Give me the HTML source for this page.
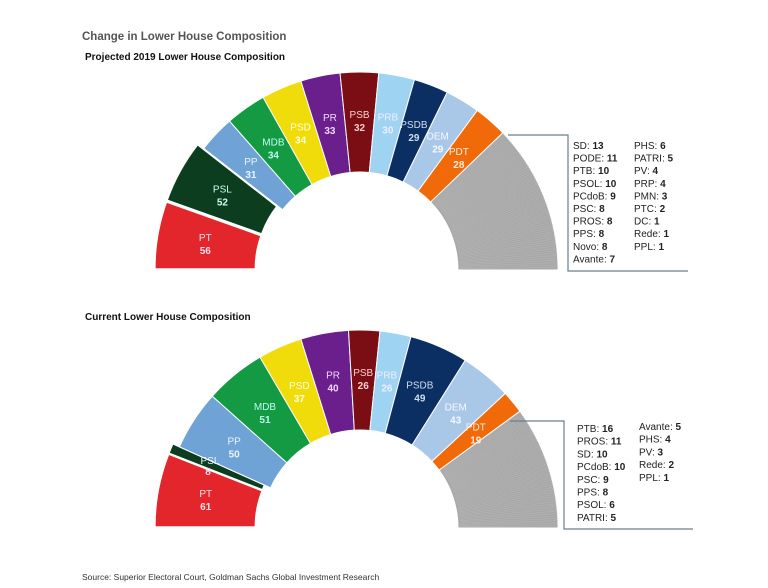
<!DOCTYPE html>
<html><head><meta charset="utf-8"><style>
body{margin:0;background:#fff;width:768px;height:588px;overflow:hidden;font-family:"Liberation Sans",Arial,sans-serif}
svg{position:absolute;left:0;top:0}
</style></head><body>
<svg id="s" width="768" height="588" xmlns="http://www.w3.org/2000/svg" font-family="Liberation Sans, Arial, sans-serif">
<rect width="768" height="588" fill="#fff"/>
<text x="82" y="40" font-size="11.5" font-weight="bold" fill="#555">Change in Lower House Composition</text>
<text x="85" y="60" font-size="10" font-weight="bold" fill="#111">Projected 2019 Lower House Composition</text>
<text x="85" y="320" font-size="10" font-weight="bold" fill="#111">Current Lower House Composition</text>
<text x="82" y="580" font-size="8.5" fill="#333">Source: Superior Electoral Court, Goldman Sachs Global Investment Research</text>
<g id="c1"></g><g id="c2"></g>
<g fill="none" stroke="#6b7f8c" stroke-width="1.2">
<polyline points="508,135 568,135 568,271 688,271"/>
<polyline points="510,421 564,421 564,529 693,529"/>
</g>
<g font-size="10" fill="#222">
<text x="573" y="149">SD: <tspan font-weight="bold">13</tspan></text>
<text x="573" y="161.6">PODE: <tspan font-weight="bold">11</tspan></text>
<text x="573" y="174.2">PTB: <tspan font-weight="bold">10</tspan></text>
<text x="573" y="186.8">PSOL: <tspan font-weight="bold">10</tspan></text>
<text x="573" y="199.4">PCdoB: <tspan font-weight="bold">9</tspan></text>
<text x="573" y="212">PSC: <tspan font-weight="bold">8</tspan></text>
<text x="573" y="224.6">PROS: <tspan font-weight="bold">8</tspan></text>
<text x="573" y="237.2">PPS: <tspan font-weight="bold">8</tspan></text>
<text x="573" y="249.8">Novo: <tspan font-weight="bold">8</tspan></text>
<text x="573" y="262.4">Avante: <tspan font-weight="bold">7</tspan></text>
<text x="634" y="149">PHS: <tspan font-weight="bold">6</tspan></text>
<text x="634" y="161.6">PATRI: <tspan font-weight="bold">5</tspan></text>
<text x="634" y="174.2">PV: <tspan font-weight="bold">4</tspan></text>
<text x="634" y="186.8">PRP: <tspan font-weight="bold">4</tspan></text>
<text x="634" y="199.4">PMN: <tspan font-weight="bold">3</tspan></text>
<text x="634" y="212">PTC: <tspan font-weight="bold">2</tspan></text>
<text x="634" y="224.6">DC: <tspan font-weight="bold">1</tspan></text>
<text x="634" y="237.2">Rede: <tspan font-weight="bold">1</tspan></text>
<text x="634" y="249.8">PPL: <tspan font-weight="bold">1</tspan></text>

<text x="577" y="432">PTB: <tspan font-weight="bold">16</tspan></text>
<text x="577" y="444.7">PROS: <tspan font-weight="bold">11</tspan></text>
<text x="577" y="457.4">SD: <tspan font-weight="bold">10</tspan></text>
<text x="577" y="470.1">PCdoB: <tspan font-weight="bold">10</tspan></text>
<text x="577" y="482.8">PSC: <tspan font-weight="bold">9</tspan></text>
<text x="577" y="495.5">PPS: <tspan font-weight="bold">8</tspan></text>
<text x="577" y="508.2">PSOL: <tspan font-weight="bold">6</tspan></text>
<text x="577" y="520.9">PATRI: <tspan font-weight="bold">5</tspan></text>
<text x="639" y="430">Avante: <tspan font-weight="bold">5</tspan></text>
<text x="639" y="442.7">PHS: <tspan font-weight="bold">4</tspan></text>
<text x="639" y="455.4">PV: <tspan font-weight="bold">3</tspan></text>
<text x="639" y="468.1">Rede: <tspan font-weight="bold">2</tspan></text>
<text x="639" y="480.8">PPL: <tspan font-weight="bold">1</tspan></text>
</g>
</svg>
<script>
var C={PT:['#e3262b','#fde'],PSL:['#0b3d1e','#cfe'],PP:['#6fa3d6','#e8f4ff'],MDB:['#139a43','#bfe'],PSD:['#f0dc0a','#ffd'],PR:['#6a1f8c','#f0d8ff'],PSB:['#7a0e14','#fcc'],PRB:['#9fd3f2','#eef'],PSDB:['#0b2e63','#cde'],DEM:['#a9c8e8','#f4f8ff'],PDT:['#f06a0a','#fed'],O:['#a8a8a8','']};
function draw(id,cy,data,expl){
 var g=document.getElementById(id),cx=360,r0=98,r1=198,tot=513,acc=0,h='',L='';
 data.forEach(function(d){
  var a0=Math.PI*(1-acc/tot);acc+=d[1];var a1=Math.PI*(1-acc/tot);
  var am=(a0+a1)/2,e=expl.indexOf(d[0])>=0?7:0,ox=e*Math.cos(am),oy=-e*Math.sin(am);
  function p(r,a){return (cx+ox+r*Math.cos(a)).toFixed(2)+','+(cy+oy-r*Math.sin(a)).toFixed(2)}
  var c=C[d[0]]||C.O;
  h+='<path d="M'+p(r0,a0)+' L'+p(r1,a0)+' A'+r1+','+r1+' 0 0 1 '+p(r1,a1)+' L'+p(r0,a1)+' A'+r0+','+r0+' 0 0 0 '+p(r0,a0)+'Z" fill="'+c[0]+'" stroke="#fff" stroke-width="1"/>';
  if(d[0]=='O'){for(var k=1;k<d[1];k+=2){var a=a0+(a1-a0)*k/d[1];h+='<line x1="'+(cx+(r0+2)*Math.cos(a))+'" y1="'+(cy-(r0+2)*Math.sin(a))+'" x2="'+(cx+r1*Math.cos(a))+'" y2="'+(cy-r1*Math.sin(a))+'" stroke="#b4b4b4" stroke-width="0.6"/>';}}
  else if(d[1]>12){var rl=150,x=cx+ox+rl*Math.cos(am),y=cy+oy-rl*Math.sin(am);
   L+='<text x="'+x+'" y="'+(y-2)+'" font-size="10" fill="'+c[1]+'" text-anchor="middle">'+d[0]+'</text><text x="'+x+'" y="'+(y+11)+'" font-size="10" font-weight="bold" fill="'+c[1]+'" text-anchor="middle">'+d[1]+'</text>';}
  else if(d[0]=='PSL'){L+='<text x="210" y="'+(cy-64)+'" font-size="10" fill="#e8f4ff" text-anchor="middle">PSL</text><text x="208" y="'+(cy-53)+'" font-size="10" font-weight="bold" fill="#fde" text-anchor="middle">8</text>';}
 });
 g.innerHTML=h+L;
}
draw('c1',270,[['PT',56],['PSL',52],['PP',31],['MDB',34],['PSD',34],['PR',33],['PSB',32],['PRB',30],['PSDB',29],['DEM',29],['PDT',28],['O',125]],['PT','PSL']);
draw('c2',528,[['PT',61],['PSL',8],['PP',50],['MDB',51],['PSD',37],['PR',40],['PSB',26],['PRB',26],['PSDB',49],['DEM',43],['PDT',19],['O',103]],['PT','PSL']);
</script>
</body></html>
